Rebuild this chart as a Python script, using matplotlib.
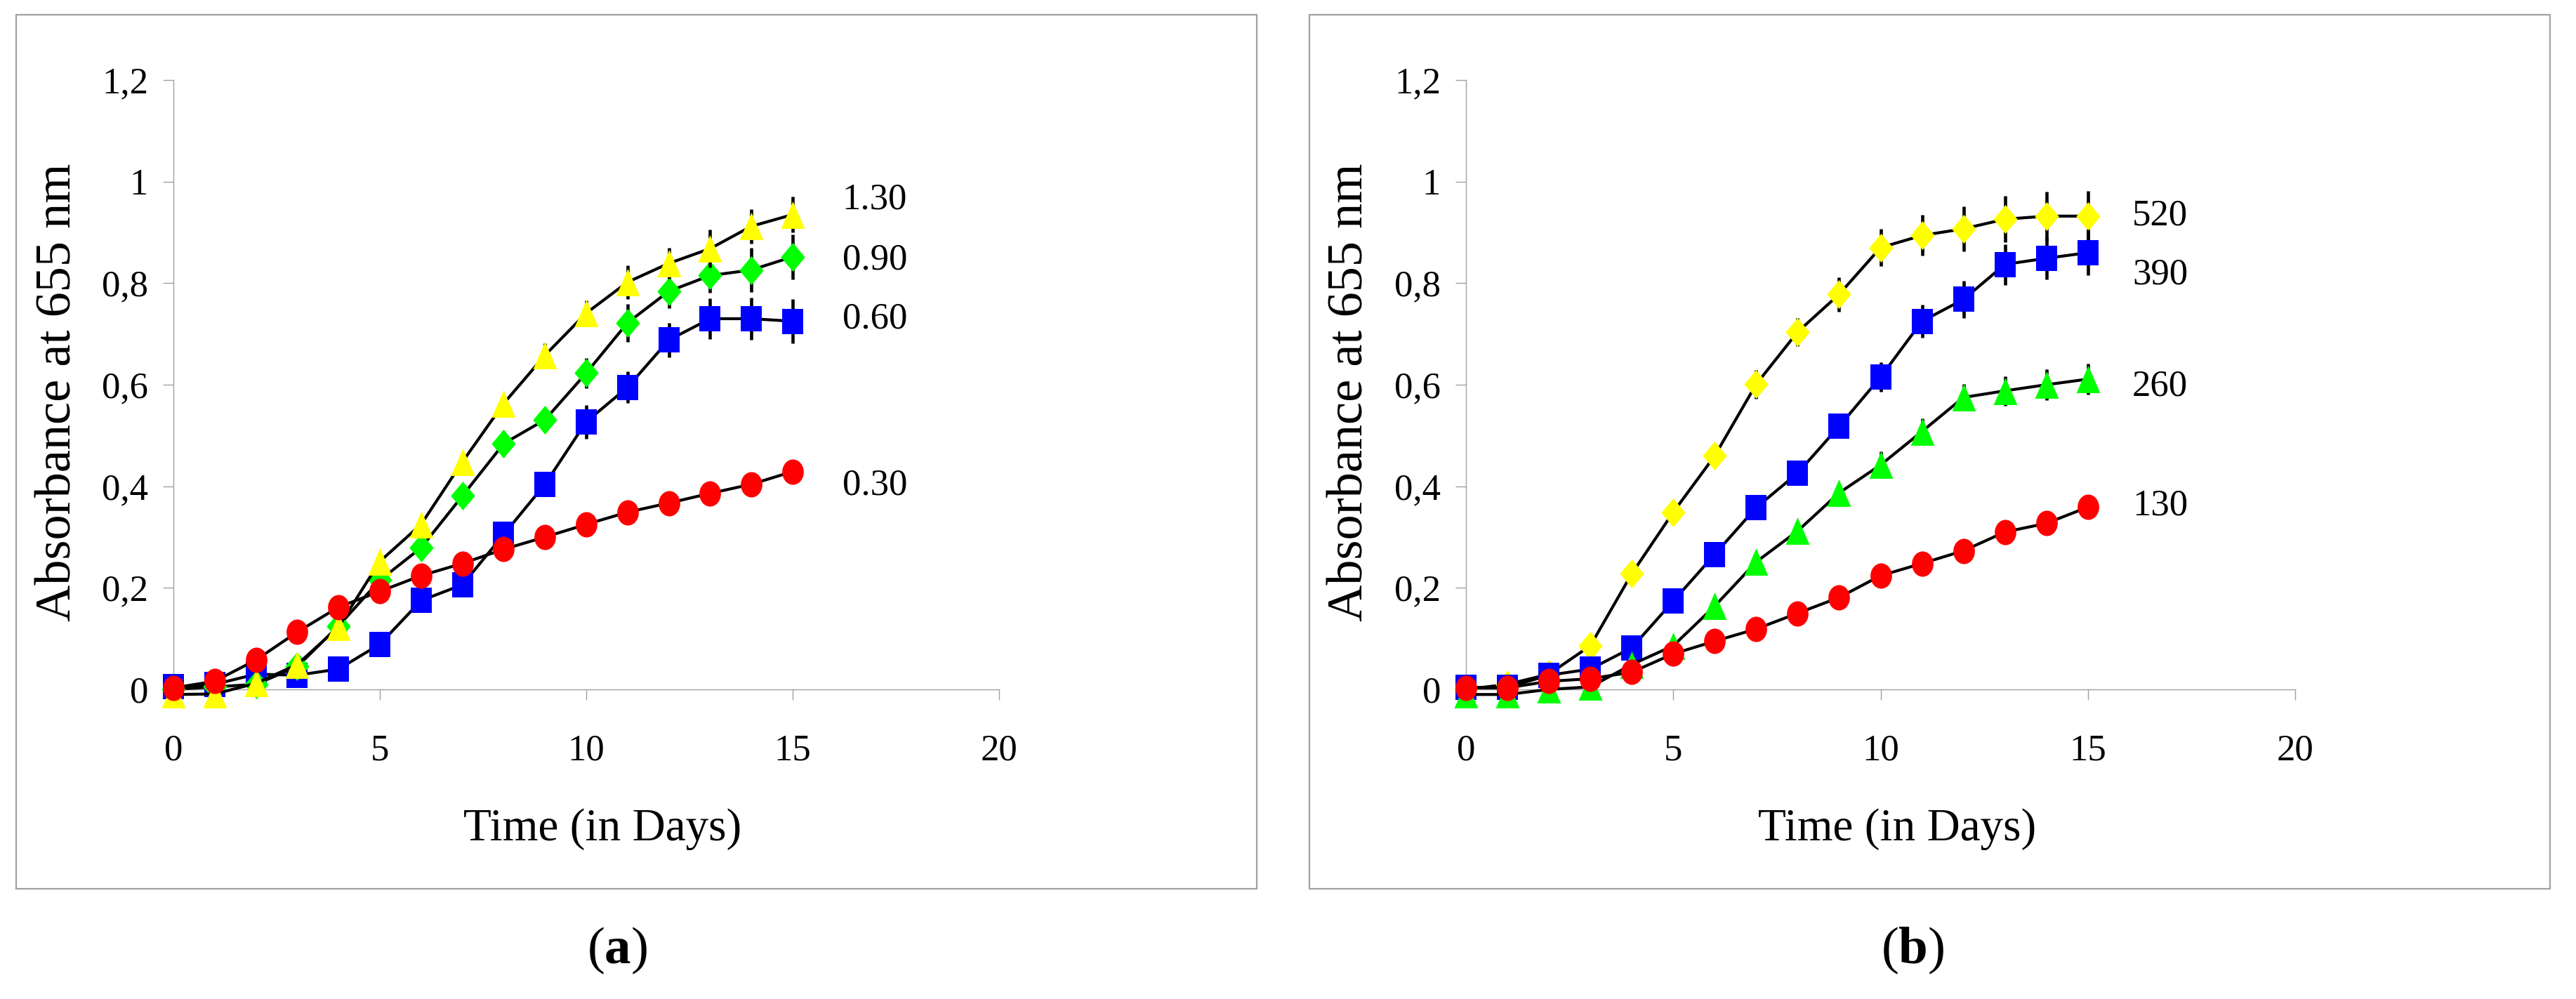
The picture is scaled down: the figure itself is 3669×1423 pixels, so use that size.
import numpy as np
import matplotlib
matplotlib.use('Agg')
import matplotlib.pyplot as plt
from matplotlib.path import Path
from matplotlib.patches import Rectangle

plt.rcParams['font.family'] = ['Liberation Serif', 'DejaVu Serif']
plt.rcParams['mathtext.fontset'] = 'custom'
plt.rcParams['mathtext.rm'] = 'Liberation Serif'
plt.rcParams['mathtext.bf'] = 'Liberation Serif:bold'

# ---- data ----
days = list(range(16))

# panel (a)
a_labels = ['1.30', '0.90', '0.60', '0.30']
a_130 = [-0.01, -0.009, 0.012, 0.049, 0.123, 0.252, 0.325, 0.448, 0.563, 0.658,
         0.741, 0.802, 0.839, 0.868, 0.912, 0.935]
a_130_err = [0.004, 0.004, 0.005, 0.006, 0.008, 0.011, 0.011, 0.012, 0.016, 0.024,
             0.025, 0.033, 0.030, 0.037, 0.034, 0.035]
a_090 = [0.0, 0.005, 0.01, 0.045, 0.125, 0.215, 0.279, 0.381, 0.484, 0.531,
         0.623, 0.722, 0.784, 0.815, 0.826, 0.852]
a_090_err = [0.004, 0.004, 0.005, 0.005, 0.006, 0.01, 0.01, 0.018, 0.025, 0.024,
             0.030, 0.037, 0.033, 0.034, 0.043, 0.044]
a_060 = [0.005, 0.01, 0.03, 0.028, 0.040, 0.089, 0.175, 0.206, 0.305, 0.404,
         0.527, 0.595, 0.688, 0.730, 0.730, 0.725]
a_060_err = [0.004, 0.004, 0.005, 0.005, 0.006, 0.008, 0.008, 0.008, 0.012, 0.021,
             0.033, 0.031, 0.034, 0.040, 0.041, 0.043]
a_030 = [0.003, 0.016, 0.058, 0.113, 0.162, 0.193, 0.224, 0.248, 0.276, 0.300,
         0.325, 0.349, 0.367, 0.386, 0.404, 0.429]
a_030_err = [0.004, 0.005, 0.008, 0.010, 0.011, 0.012, 0.013, 0.015, 0.022, 0.021,
             0.020, 0.020, 0.019, 0.022, 0.019, 0.022]

# panel (b)
b_labels = ['520', '390', '260', '130']
b_520 = [0.0, 0.01, 0.03, 0.086, 0.228, 0.349, 0.46, 0.601, 0.704, 0.778,
         0.870, 0.894, 0.907, 0.926, 0.932, 0.932]
b_520_err = [0.004, 0.005, 0.006, 0.008, 0.012, 0.018, 0.022, 0.028, 0.028, 0.034,
             0.037, 0.040, 0.044, 0.046, 0.048, 0.049]
b_390 = [0.004, 0.004, 0.028, 0.040, 0.082, 0.174, 0.266, 0.358, 0.426, 0.518,
         0.615, 0.725, 0.768, 0.837, 0.849, 0.860]
b_390_err = [0.004, 0.004, 0.005, 0.006, 0.008, 0.010, 0.012, 0.015, 0.018, 0.022,
             0.029, 0.033, 0.036, 0.040, 0.041, 0.045]
b_260 = [-0.01, -0.01, 0.0, 0.005, 0.049, 0.086, 0.164, 0.251, 0.312, 0.387,
         0.442, 0.508, 0.575, 0.588, 0.600, 0.611]
b_260_err = [0.003, 0.003, 0.004, 0.005, 0.008, 0.010, 0.013, 0.015, 0.017, 0.020,
             0.026, 0.026, 0.026, 0.029, 0.030, 0.030]
b_130 = [0.003, 0.003, 0.016, 0.021, 0.034, 0.070, 0.095, 0.119, 0.150, 0.181,
         0.224, 0.248, 0.273, 0.310, 0.327, 0.359]
b_130_err = [0.003, 0.003, 0.005, 0.006, 0.008, 0.010, 0.012, 0.013, 0.014, 0.015,
             0.017, 0.017, 0.018, 0.019, 0.021, 0.021]

y_ticks = [0, 0.2, 0.4, 0.6, 0.8, 1.0, 1.2]
y_ticklabels = ['0', '0,2', '0,4', '0,6', '0,8', '1', '1,2']
x_ticks = [0, 5, 10, 15, 20]

# ---- slightly narrow markers, like the original Excel export ----
circ = Path.unit_circle()
m_circle = Path(circ.vertices * [0.85, 1.0], circ.codes)
m_square = np.array([[-0.84, -1], [0.84, -1], [0.84, 1], [-0.84, 1], [-0.84, -1]])
m_tri = np.array([[0, 1], [-0.87, -1], [0.87, -1], [0, 1]])
m_diamond = np.array([[0, 1], [0.84, 0], [0, -1], [-0.84, 0], [0, 1]])

YEL, GRN, BLU, RED = '#ffff00', '#00ff00', '#0000ff', '#ff0000'
GREY = '#a0a0a0'

fig = plt.figure(figsize=(36.69, 14.23), dpi=100)

# frames round each panel
for x0 in (23 / 3669, 1865 / 3669):
    fig.patches.append(Rectangle((x0, 0.1103), 0.4816, 0.8749, transform=fig.transFigure,
                                 fill=False, edgecolor=GREY, linewidth=1.6))


def draw_series(ax, y, err, marker, ms, color, z):
    ax.errorbar(days, y, yerr=err, color='black', linewidth=3.0,
                marker=marker, markersize=ms, markerfacecolor=color,
                markeredgewidth=0, ecolor='black', elinewidth=3.3,
                capsize=11.5, capthick=3.6, clip_on=False, zorder=z)


def style_axes(ax):
    ax.set_xlim(0, 20)
    ax.set_ylim(0, 1.2)
    ax.set_xticks(x_ticks)
    ax.set_yticks(y_ticks)
    ax.set_yticklabels(y_ticklabels)
    for s in ('top', 'right'):
        ax.spines[s].set_visible(False)
    for s in ('left', 'bottom'):
        ax.spines[s].set_color(GREY)
        ax.spines[s].set_linewidth(1.0)
    ax.tick_params(axis='both', direction='out', length=10.8, width=1.0,
                   color=GREY, labelsize=38)
    ax.tick_params(axis='x', pad=35)
    ax.tick_params(axis='y', pad=15)
    ax.set_xlabel('Time (in Days)', fontsize=47)
    ax.xaxis.set_label_coords(0.52, -0.195)
    ax.set_ylabel('Absorbance at 655 nm', fontsize=52)
    ax.yaxis.set_label_coords(-0.112, 0.488)


ax_a = fig.add_axes([247 / 3669, 1 - 982 / 1423, 1176 / 3669, 868 / 1423])
draw_series(ax_a, a_060, a_060_err, m_square, 26.5, BLU, 3)
draw_series(ax_a, a_090, a_090_err, m_diamond, 29.5, GRN, 4)
draw_series(ax_a, a_130, a_130_err, m_tri, 28, YEL, 5)
draw_series(ax_a, a_030, a_030_err, m_circle, 26, RED, 6)
style_axes(ax_a)
for lab, yv in zip(a_labels, [0.946, 0.827, 0.711, 0.384]):
    ax_a.text(16.2, yv, lab, fontsize=38, va='baseline', ha='left')

ax_b = fig.add_axes([2088 / 3669, 1 - 982 / 1423, 1181 / 3669, 868 / 1423])
draw_series(ax_b, b_520, b_520_err, m_diamond, 29.5, YEL, 3)
draw_series(ax_b, b_390, b_390_err, m_square, 26.5, BLU, 4)
draw_series(ax_b, b_260, b_260_err, m_tri, 28, GRN, 5)
draw_series(ax_b, b_130, b_130_err, m_circle, 26, RED, 6)
style_axes(ax_b)
for lab, yv in zip(b_labels, [0.915, 0.799, 0.578, 0.344]):
    ax_b.text(16.07, yv, lab, fontsize=38, va='baseline', ha='left')

# panel letters
fig.text(879 / 3669, 1 - 1354 / 1423, r'($\mathbf{a}$)', fontsize=54,
         ha='center', va='center')
fig.text(2724 / 3669, 1 - 1354 / 1423, r'($\mathbf{b}$)', fontsize=54,
         ha='center', va='center')

fig.savefig('out.png', dpi=100)
